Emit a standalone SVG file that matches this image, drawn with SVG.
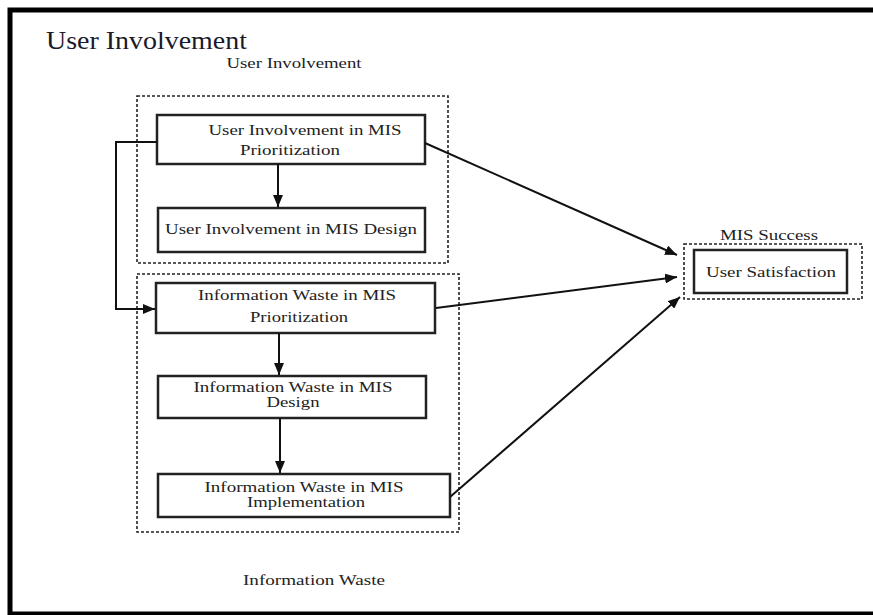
<svg xmlns="http://www.w3.org/2000/svg" width="873" height="615" viewBox="0 0 873 615">
<defs>
<marker id="arr" markerUnits="userSpaceOnUse" markerWidth="14" markerHeight="10" refX="12" refY="5" orient="auto">
<path d="M0,0 L12,5 L0,10 Z" fill="#111"/>
</marker>
<style>
.frame{fill:none;stroke:#000;stroke-width:5}
.grp{fill:none;stroke:#222;stroke-width:1.6;stroke-dasharray:3,2}
.box{fill:#fff;stroke:#222;stroke-width:2.5}
.t{font-family:"Liberation Serif","Times New Roman",serif;font-size:14px;fill:#222;text-anchor:middle}
.title{font-family:"Liberation Serif","Times New Roman",serif;font-size:26px;fill:#1a1a2a}
.c{fill:none;stroke:#111;stroke-width:2}
</style>
</defs>
<rect width="873" height="615" fill="#fff"/>
<rect class="frame" x="10" y="10" width="880" height="604"/>
<text class="title" x="46" y="49" textLength="201" lengthAdjust="spacingAndGlyphs">User Involvement</text>

<g id="group-user-involvement">
<rect class="grp" x="137" y="96" width="311" height="167"/>
<text class="t" x="294" y="68" textLength="135" lengthAdjust="spacingAndGlyphs">User Involvement</text>
</g>
<g id="group-information-waste">
<rect class="grp" x="137" y="274" width="322" height="258"/>
<text class="t" x="314" y="585" textLength="142" lengthAdjust="spacingAndGlyphs">Information Waste</text>
</g>
<g id="group-mis-success">
<rect class="grp" x="684" y="244" width="178" height="55"/>
<text class="t" x="769" y="240" textLength="98" lengthAdjust="spacingAndGlyphs">MIS Success</text>
</g>

<g id="ui-prioritization">
<rect class="box" x="157" y="115" width="268" height="49"/>
<text class="t" x="305" y="135" textLength="193" lengthAdjust="spacingAndGlyphs">User Involvement in MIS</text>
<text class="t" x="290" y="155" textLength="100" lengthAdjust="spacingAndGlyphs">Prioritization</text>
</g>
<g id="ui-design">
<rect class="box" x="158" y="208" width="267" height="44"/>
<text class="t" x="291" y="234" textLength="252" lengthAdjust="spacingAndGlyphs">User Involvement in MIS Design</text>
</g>
<g id="iw-prioritization">
<rect class="box" x="156" y="283" width="279" height="50"/>
<text class="t" x="297" y="300" textLength="198" lengthAdjust="spacingAndGlyphs">Information Waste in MIS</text>
<text class="t" x="299" y="322" textLength="98" lengthAdjust="spacingAndGlyphs">Prioritization</text>
</g>
<g id="iw-design">
<rect class="box" x="158" y="376" width="268" height="42"/>
<text class="t" x="293" y="392" textLength="199" lengthAdjust="spacingAndGlyphs">Information Waste in MIS</text>
<text class="t" x="293" y="407" textLength="53" lengthAdjust="spacingAndGlyphs">Design</text>
</g>
<g id="iw-implementation">
<rect class="box" x="158" y="474" width="292" height="43"/>
<text class="t" x="304" y="492" textLength="199" lengthAdjust="spacingAndGlyphs">Information Waste in MIS</text>
<text class="t" x="306" y="507" textLength="118" lengthAdjust="spacingAndGlyphs">Implementation</text>
</g>
<g id="user-satisfaction">
<rect class="box" x="694" y="250" width="153" height="43"/>
<text class="t" x="771" y="277" textLength="130" lengthAdjust="spacingAndGlyphs">User Satisfaction</text>
</g>

<g id="connectors">
<line class="c" x1="278" y1="164" x2="278" y2="207" marker-end="url(#arr)"/>
<line class="c" x1="279" y1="333" x2="279" y2="375" marker-end="url(#arr)"/>
<line class="c" x1="280" y1="418" x2="280" y2="473" marker-end="url(#arr)"/>
<polyline class="c" points="157,142 116,142 116,309 155,309" marker-end="url(#arr)"/>
<line class="c" x1="425" y1="143" x2="677" y2="255" marker-end="url(#arr)"/>
<line class="c" x1="436" y1="308" x2="677" y2="277" marker-end="url(#arr)"/>
<line class="c" x1="450" y1="497" x2="680" y2="297" marker-end="url(#arr)"/>
</g>
</svg>
